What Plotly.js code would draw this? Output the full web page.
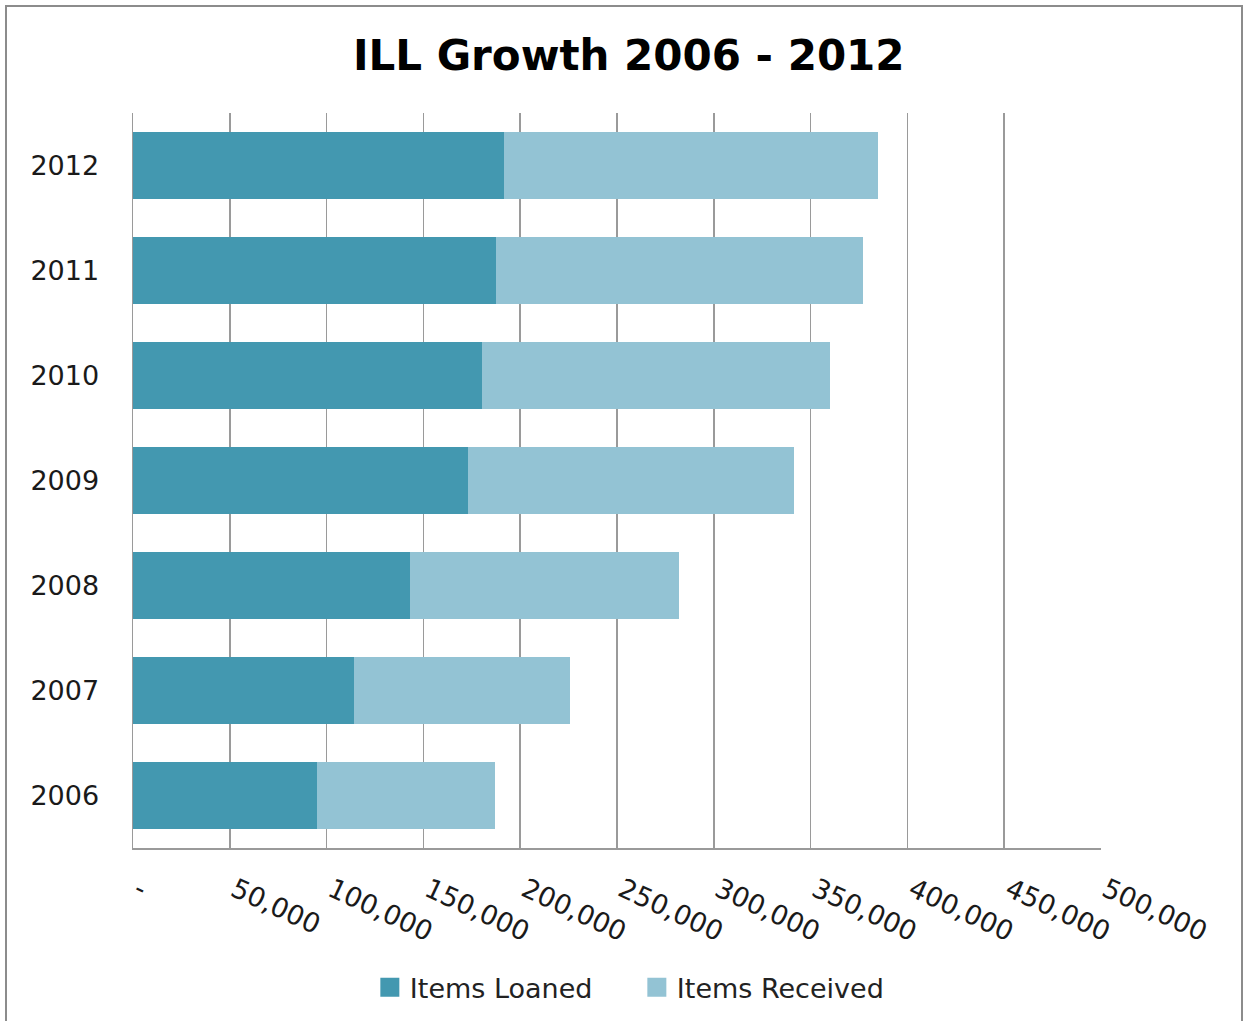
<!DOCTYPE html>
<html>
<head>
<meta charset="utf-8">
<script src="https://cdn.plot.ly/plotly-3.0.1.min.js"></script>
<style>
body{margin:0;padding:0;background:#fff;}
#chart{position:absolute;left:0;top:0;width:1245px;height:1021px;}
#frame{position:absolute;left:5px;top:5px;width:1234px;height:1030px;border:2px solid #8c8c8c;pointer-events:none;}
.legendpoints path{d:path("M9.5,9.5H-9.5V-9.5H9.5Z");}
</style>
</head>
<body>
<div id="chart"></div>
<div id="frame"></div>
<script>
const years = ["2006","2007","2008","2009","2010","2011","2012"];
const itemsLoaned = [95000, 114200, 143100, 173000, 180300, 187500, 191600];
const itemsReceived = [92000, 111500, 138900, 168400, 179700, 189600, 193200];
const tickValues = [0,50000,100000,150000,200000,250000,300000,350000,400000,450000,500000];
const tickLabels = ["-","50,000","100,000","150,000","200,000","250,000","300,000","350,000","400,000","450,000","500,000"];

const font = "DejaVu Sans, Open Sans, sans-serif";
const data = [
  {type:"bar", orientation:"h", name:"Items Loaned", y:years, x:itemsLoaned,
   marker:{color:"#4398B0"}},
  {type:"bar", orientation:"h", name:"Items Received", y:years, x:itemsReceived,
   marker:{color:"#93C3D4"}}
];
const layout = {
  width:1245, height:1021,
  margin:{l:133, r:144, t:113, b:173, autoexpand:false},
  paper_bgcolor:"#fff", plot_bgcolor:"#fff",
  barmode:"stack", bargap:0.36,
  title:{text:"<b>ILL Growth 2006 - 2012</b>", x:0.505, xanchor:"center", y:0.946, yanchor:"middle",
         font:{family:font, size:42, color:"#000"}},
  xaxis:{range:[0,500000], tickvals:tickValues, ticktext:tickLabels, tickangle:25,
         automargin:false,
         showgrid:true, gridcolor:"#9a9a9a", gridwidth:1.5,
         showline:true, linecolor:"#9a9a9a", linewidth:1.5, zeroline:false,
         ticks:"", ticklabelstandoff:14, ticklabelshift:5,
         tickfont:{family:font, size:27, color:"#1a1a1a"}},
  yaxis:{type:"category", categoryorder:"array", categoryarray:years,
         automargin:false,
         showline:true, linecolor:"#9a9a9a", linewidth:1.5, showgrid:false,
         ticks:"", ticklabelstandoff:27,
         tickfont:{family:font, size:27, color:"#1a1a1a"}},
  legend:{orientation:"h", x:0.5205, xanchor:"center", y:-0.19, yanchor:"middle",
          font:{family:font, size:27, color:"#222"}, itemwidth:30, traceorder:"normal",
          entrywidth:222, entrywidthmode:"pixels", automargin:false},
  showlegend:true
};
Plotly.newPlot("chart", data, layout, {staticPlot:true});
</script>
</body>
</html>
